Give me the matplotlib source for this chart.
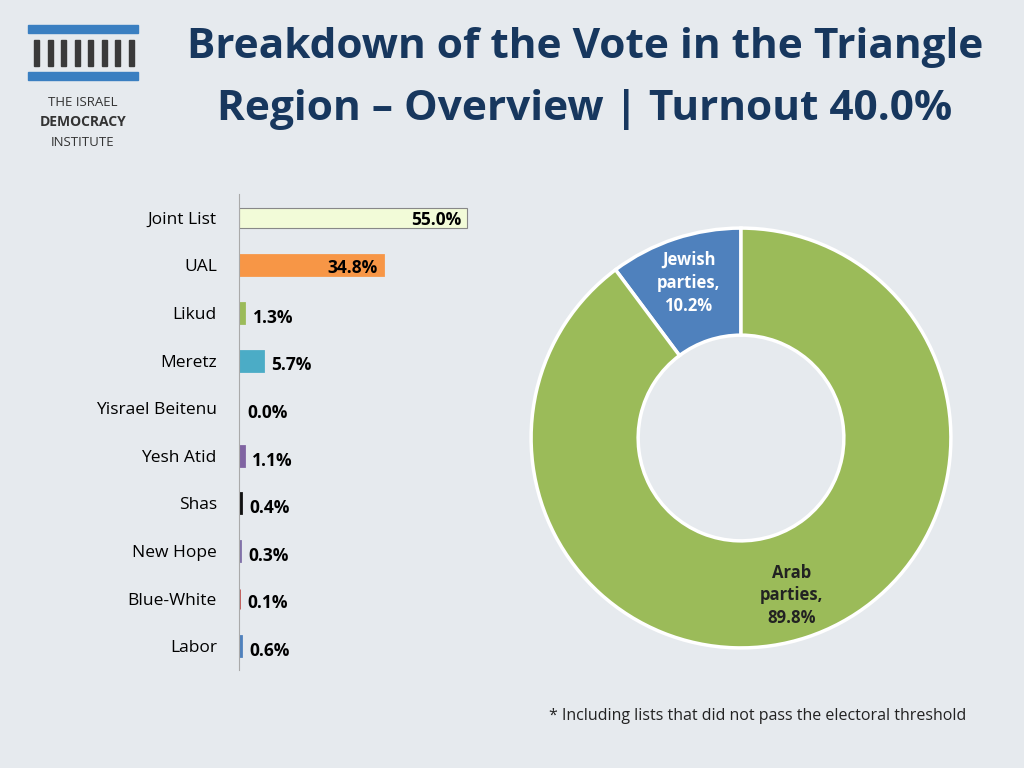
import matplotlib
matplotlib.use("Agg")
import matplotlib.pyplot as plt
import numpy as np
from matplotlib.patches import Rectangle

parties = ["Joint List", "UAL", "Likud", "Meretz", "Yisrael Beitenu", "Yesh Atid", "Shas", "New Hope", "Blue-White", "Labor"]
shares = [55.0, 34.8, 1.3, 5.7, 0.0, 1.1, 0.4, 0.3, 0.1, 0.6]
bar_colors = ["#F2FBD8", "#F79646", "#9BBB59", "#4BACC6", "#999999", "#8064A2", "#111111", "#7F6FA8", "#C0504D", "#4F81BD"]
groups = ["Jewish\nparties,\n10.2%", "Arab\nparties,\n89.8%"]
group_vals = [10.2, 89.8]
group_colors = ["#4F81BD", "#9BBB59"]

W, H = 1024, 768
fig = plt.figure(figsize=(W/100, H/100), dpi=100)
fig.patch.set_facecolor("#E6EAEE")
FONT = "Open Sans"

def ax_px(l, t, w, h):
    return fig.add_axes([l/W, 1-(t+h)/H, w/W, h/H])

fig.text(585/W, 1-48/H, "Breakdown of the Vote in the Triangle", ha="center", va="center",
         fontsize=30.5, fontweight="bold", color="#17375E", family=FONT)
fig.text(585/W, 1-110/H, "Region – Overview | Turnout 40.0%", ha="center", va="center",
         fontsize=30.5, fontweight="bold", color="#17375E", family=FONT)

lg = ax_px(20, 20, 130, 135)
lg.set_xlim(0, 130); lg.set_ylim(135, 0); lg.axis("off")
lg.add_patch(Rectangle((8, 5), 110, 8, color="#3A7FC1"))
lg.add_patch(Rectangle((8, 52), 110, 8, color="#3A7FC1"))
for i in range(8):
    lg.add_patch(Rectangle((14 + i*13.5, 20), 5, 26, color="#3A3A3A"))
lg.text(63, 82, "THE ISRAEL", ha="center", va="center", fontsize=9.5, color="#333", family=FONT)
lg.text(63, 102, "DEMOCRACY", ha="center", va="center", fontsize=10, fontweight="bold", color="#333", family=FONT)
lg.text(63, 122, "INSTITUTE", ha="center", va="center", fontsize=9.5, color="#333", family=FONT)

ax = ax_px(239, 194, 249, 476)
ax.set_facecolor("none")
y = np.arange(len(parties))
bars = ax.barh(y, shares, height=0.42, color=bar_colors, edgecolor=bar_colors, linewidth=2)
for b, v in zip(bars, shares):
    if v == 0:
        b.set_linewidth(0)
bars[0].set_edgecolor("#888888"); bars[0].set_linewidth(0.8)
ax.set_xlim(0, 60); ax.set_ylim(len(parties)-0.5, -0.5)
ax.set_yticks(y); ax.set_yticklabels(parties, fontsize=12.5, family=FONT)
ax.tick_params(axis="y", length=0, pad=16)
ax.set_xticks([])
for s in ["top", "right", "bottom"]:
    ax.spines[s].set_visible(False)
ax.spines["left"].set_color("#AAAAAA")
for yi, v in zip(y, shares):
    t = f"{v:.1f}%"
    if v > 20:
        ax.text(v - 1.5, yi + 0.05, t, ha="right", va="center", fontsize=12.5, fontweight="bold", family=FONT)
    else:
        ax.text(v + 2, yi + 0.1, t, ha="left", va="center", fontsize=12.5, fontweight="bold", family=FONT)

dx = ax_px(529, 226, 424, 424)
dx.pie(group_vals, colors=group_colors, startangle=90, counterclock=True,
       wedgeprops=dict(width=0.51, edgecolor="white", linewidth=2.5))
dx.set_xlim(-1.01, 1.01); dx.set_ylim(-1.01, 1.01)
dx.set_aspect("equal")
dx.text(-0.25, 0.74, groups[0], ha="center", va="center", fontsize=12, fontweight="bold", color="white", family=FONT, linespacing=1.35)
dx.text(0.24, -0.75, groups[1], ha="center", va="center", fontsize=12, fontweight="bold", color="#222", family=FONT, linespacing=1.35)

fig.text(758/W, 1-716/H, "* Including lists that did not pass the electoral threshold", ha="center", va="center",
         fontsize=11.5, family=FONT, color="#222")

fig.savefig("out.png", dpi=100, facecolor=fig.get_facecolor())
